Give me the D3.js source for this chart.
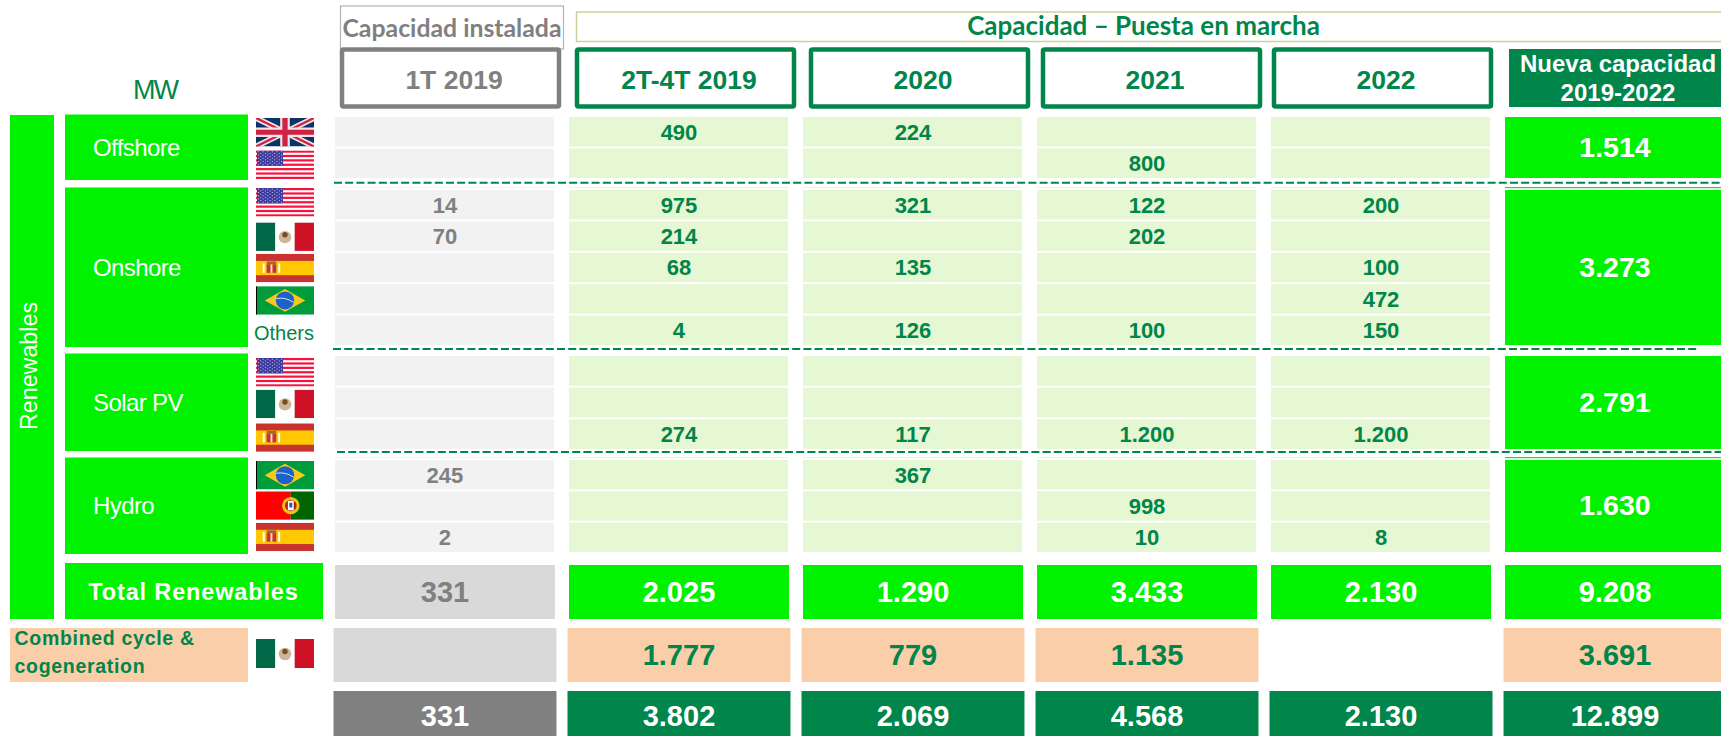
<!DOCTYPE html>
<html>
<head>
<meta charset="utf-8">
<script src="https://cdn.jsdelivr.net/npm/d3@7/dist/d3.min.js"></script>
<style>
html, body { margin: 0; padding: 0; background: #fff; overflow: hidden; }
svg { display: block; }
text { font-family: "Liberation Sans", Arial, sans-serif; }
</style>
</head>
<body>
<svg class="chart" width="1721" height="736"></svg>
<script>
// Data
var columns = ["1T 2019", "2T-4T 2019", "2020", "2021", "2022", "Nueva capacidad 2019-2022"];
var technologies = ["Offshore", "Onshore", "Solar PV", "Hydro"];
var offshoreCountries = ["UK", "US"];
var onshoreCountries = ["US", "MX", "ES", "BR", "Others"];
var solarCountries = ["US", "MX", "ES"];
var hydroCountries = ["BR", "PT", "ES"];

var installed1T = [null, null, 14, 70, null, null, null, null, null, null, 245, null, 2];
var period2019 = [490, null, 975, 214, 68, null, 4, null, null, 274, null, null, null];
var period2020 = [224, null, 321, null, 135, null, 126, null, null, 117, 367, null, null];
var period2021 = [null, 800, 122, 202, null, null, 100, null, null, 1200, null, 998, 10];
var period2022 = [null, null, 200, null, 100, 472, 150, null, null, 1200, null, null, 8];
var techTotals = [1514, 3273, 2791, 1630];
var totalRenewables = [331, 2025, 1290, 3433, 2130, 9208];
var combinedCycle = [null, 1777, 779, 1135, null, 3691];
var grandTotal = [331, 3802, 2069, 4568, 2130, 12899];

// Colours
var GREEN = "#00F200", DARK = "#00854A", LIGHT = "#E6F7D3", PALE = "#F2F2F2";
var SILVER = "#D9D9D9", GREY = "#808080", PEACH = "#FBCEAA";
var WIDTH = 1721, HEIGHT = 736;

var svg = d3.select(".chart");
var fmt = d3.formatLocale({decimal: ",", thousands: ".", grouping: [3], currency: ["", ""]}).format(",d");

// Scales
var x = d3.scaleBand().domain(columns).range([335, 1725]).paddingInner(0.06);
var xHead = d3.scaleOrdinal().domain(columns.slice(0, 5)).range([340, 575, 809, 1041, 1272]);
var HEAD_W = 221;
var countries = [offshoreCountries, onshoreCountries, solarCountries, hydroCountries];
var groupExtent = d3.scaleOrdinal().domain(technologies)
    .range([[117, 178], [190, 345], [356, 449], [460, 552]]);
var yTotals = d3.scaleBand().domain(["renewables", "combined", "grand"])
    .range([565, 745]).paddingInner(0.1429);

// One band scale per technology block, rows numbered across the whole table
var rows = [];
technologies.forEach(function(tech, t) {
    var idx = countries[t].map(function(c, i) { return rows.length + i; });
    var yRow = d3.scaleBand().domain(idx).range(groupExtent(tech)).paddingInner(0.064);
    countries[t].forEach(function(c, i) {
        rows.push({tech: tech, country: c, y: yRow(idx[i]), h: yRow.bandwidth()});
    });
});

function centerText(sel, size, fill, weight) {
    return sel.attr("text-anchor", "middle")
        .attr("dy", "0.36em")
        .attr("font-size", size)
        .attr("font-weight", weight || "bold")
        .attr("fill", fill);
}

// Header boxes
svg.append("rect").attr("x", 340.5).attr("y", 6).attr("width", 223).attr("height", 43)
    .attr("fill", "#fff").attr("stroke", "#B4B4B4").attr("stroke-width", 1.2);
svg.append("text").attr("x", 452).attr("y", 28.5)
    .call(centerText, 24.8, GREY).style("font-family", "Lato")
    .text("Capacidad instalada");

svg.append("rect").attr("x", 576.5).attr("y", 12).attr("width", 1150).attr("height", 29.5)
    .attr("fill", "#fff").attr("stroke", "#C3D69B").attr("stroke-width", 1.5);
svg.append("text").attr("x", 1143.5).attr("y", 26)
    .call(centerText, 26, DARK).style("font-family", "Lato")
    .text("Capacidad \u2013 Puesta en marcha");

svg.selectAll(".head-box")
    .data(columns.slice(0, 5))
    .enter().append("rect")
    .attr("class", "head-box")
    .attr("x", function(d) { return xHead(d) + 2; })
    .attr("y", 49.5)
    .attr("width", HEAD_W - 4)
    .attr("height", 57)
    .attr("rx", 1.5)
    .attr("fill", "#fff")
    .attr("stroke", function(d, i) { return i == 0 ? GREY : DARK; })
    .attr("stroke-width", 4.5);
svg.selectAll(".head-text")
    .data(columns.slice(0, 5))
    .enter().append("text")
    .attr("class", "head-text")
    .attr("x", function(d) { return xHead(d) + HEAD_W / 2 + 3.5; })
    .attr("y", 79)
    .call(centerText, 26.5, DARK)
    .attr("fill", function(d, i) { return i == 0 ? GREY : DARK; })
    .text(function(d) { return d; });

svg.append("rect").attr("x", 1509).attr("y", 49).attr("width", WIDTH - 1509).attr("height", 58)
    .attr("fill", DARK);
svg.selectAll(".new-head")
    .data(["Nueva capacidad", "2019-2022"])
    .enter().append("text")
    .attr("class", "new-head")
    .attr("x", 1618)
    .attr("y", function(d, i) { return 63 + i * 29; })
    .call(centerText, 24, "#fff")
    .text(function(d) { return d; });

svg.append("text").attr("x", 155).attr("y", 89)
    .call(centerText, 27, DARK, "normal")
    .attr("letter-spacing", -2)
    .text("MW");

// Left labels
svg.append("rect").attr("x", 10).attr("y", 115).attr("width", 44).attr("height", 504).attr("fill", GREEN);
svg.append("text")
    .attr("transform", "translate(29,366) rotate(-90)")
    .call(centerText, 23.3, "#fff", "normal")
    .text("Renewables");

svg.selectAll(".tech-box")
    .data(technologies)
    .enter().append("rect")
    .attr("class", "tech-box")
    .attr("x", 65)
    .attr("y", function(d) { return groupExtent(d)[0] - 2.5; })
    .attr("width", 183)
    .attr("height", function(d) { return groupExtent(d)[1] - groupExtent(d)[0] + 4.5; })
    .attr("fill", GREEN);
svg.selectAll(".tech-label")
    .data(technologies)
    .enter().append("text")
    .attr("class", "tech-label")
    .attr("x", 93)
    .attr("y", function(d) { return (groupExtent(d)[0] + groupExtent(d)[1]) / 2 - 0.5; })
    .attr("dy", "0.36em")
    .attr("font-size", 24)
    .attr("letter-spacing", -0.6)
    .attr("fill", "#fff")
    .text(function(d) { return d; });

svg.append("rect").attr("x", 65).attr("y", 563).attr("width", 258).attr("height", 56).attr("fill", GREEN);
svg.append("text").attr("x", 193.5).attr("y", 591.5)
    .call(centerText, 23.5, "#fff")
    .attr("letter-spacing", 0.85)
    .text("Total Renewables");

svg.append("rect").attr("x", 10).attr("y", 628).attr("width", 238).attr("height", 54).attr("fill", PEACH);
svg.selectAll(".combined-label")
    .data(["Combined cycle &", "cogeneration"])
    .enter().append("text")
    .attr("class", "combined-label")
    .attr("x", 14.5)
    .attr("y", function(d, i) { return 638 + i * 27.5; })
    .attr("dy", "0.36em")
    .attr("font-size", 19.5)
    .attr("font-weight", "bold")
    .attr("letter-spacing", 0.7)
    .attr("fill", DARK)
    .text(function(d) { return d; });

// Table cells
var periods = [installed1T, period2019, period2020, period2021, period2022];
var cellCols = columns.slice(0, 5);

cellCols.forEach(function(col, c) {
    svg.selectAll(".cell-" + c)
        .data(rows)
        .enter().append("rect")
        .attr("class", "cell-" + c)
        .attr("x", x(col))
        .attr("y", function(d) { return d.y; })
        .attr("width", x.bandwidth() - 1)
        .attr("height", function(d) { return d.h; })
        .attr("fill", c == 0 ? PALE : LIGHT);
    // faint strip over the blocks that start below a dashed line
    svg.selectAll(".strip-" + c)
        .data(["Onshore", "Hydro"])
        .enter().append("rect")
        .attr("class", "strip-" + c)
        .attr("x", x(col))
        .attr("y", function(d) { return groupExtent(d)[0] - 3; })
        .attr("width", x.bandwidth() - 1)
        .attr("height", 1)
        .attr("fill", c == 0 ? PALE : LIGHT);
    svg.selectAll(".val-" + c)
        .data(periods[c].map(function(v, i) { return {v: v, row: rows[i]}; }).filter(function(d) { return d.v !== null; }))
        .enter().append("text")
        .attr("class", "val-" + c)
        .attr("x", x(col) + x.bandwidth() / 2)
        .attr("y", function(d) { return d.row.y + d.row.h / 2; })
        .call(centerText, 22, c == 0 ? GREY : DARK)
        .text(function(d) { return fmt(d.v); });
});

// Right column per technology
var newCol = columns[5];
svg.selectAll(".tech-total")
    .data(technologies)
    .enter().append("rect")
    .attr("class", "tech-total")
    .attr("x", x(newCol))
    .attr("y", function(d) { return groupExtent(d)[0]; })
    .attr("width", WIDTH - x(newCol))
    .attr("height", function(d) { return groupExtent(d)[1] - groupExtent(d)[0]; })
    .attr("fill", GREEN);
svg.selectAll(".tech-strip")
    .data(["Onshore", "Hydro"])
    .enter().append("rect")
    .attr("class", "tech-strip")
    .attr("x", x(newCol))
    .attr("y", function(d) { return groupExtent(d)[0] - 3; })
    .attr("width", WIDTH - x(newCol))
    .attr("height", 1.2)
    .attr("fill", GREEN);
svg.selectAll(".tech-total-text")
    .data(techTotals)
    .enter().append("text")
    .attr("class", "tech-total-text")
    .attr("x", x(newCol) + x.bandwidth() / 2)
    .attr("y", function(d, i) { var e = groupExtent(technologies[i]); return (e[0] + e[1]) / 2 - 1; })
    .call(centerText, 28.5, "#fff")
    .text(function(d) { return fmt(d); });

// Bottom rows
function totalRow(key, values, fills, textFills, widen, lift) {
    var bars = values.map(function(v, i) {
        return {col: columns[i], v: v, i: i};
    }).filter(function(d) { return fills(d) !== null; });
    svg.selectAll(".bar-" + key)
        .data(bars)
        .enter().append("rect")
        .attr("class", "bar-" + key)
        .attr("x", function(d) { return x(d.col) - widen; })
        .attr("y", yTotals(key))
        .attr("width", function(d) { return Math.min(x.bandwidth() + 2 * widen, WIDTH - x(d.col) + widen); })
        .attr("height", Math.min(yTotals.bandwidth(), HEIGHT - yTotals(key)))
        .attr("fill", fills);
    svg.selectAll(".bar-text-" + key)
        .data(bars.filter(function(d) { return d.v !== null; }))
        .enter().append("text")
        .attr("class", "bar-text-" + key)
        .attr("x", function(d) { return x(d.col) + x.bandwidth() / 2; })
        .attr("y", yTotals(key) + yTotals.bandwidth() / 2 - lift)
        .call(centerText, 29, "#fff")
        .attr("fill", textFills)
        .text(function(d) { return fmt(d.v); });
}
totalRow("renewables", totalRenewables,
    function(d) { return d.i == 0 ? SILVER : GREEN; },
    function(d) { return d.i == 0 ? GREY : "#fff"; }, 0, 0);
totalRow("combined", combinedCycle,
    function(d) { return d.i == 0 ? SILVER : (d.v === null ? null : PEACH); },
    function(d) { return DARK; }, 1.5, 0);
totalRow("grand", grandTotal,
    function(d) { return d.i == 0 ? GREY : DARK; },
    function(d) { return "#fff"; }, 1.5, 2);

// Dashed separators
var separators = d3.scaleOrdinal().domain(["Offshore", "Onshore", "Solar PV"]).range([182.7, 349, 452]);
var sepStart = d3.scaleOrdinal().domain(separators.domain()).range([334, 333, 337]);
var sepEnd = d3.scaleOrdinal().domain(separators.domain()).range([WIDTH, 1698, WIDTH]);
svg.selectAll(".separator")
    .data(separators.domain())
    .enter().append("line")
    .attr("class", "separator")
    .attr("x1", sepStart)
    .attr("x2", sepEnd)
    .attr("y1", separators)
    .attr("y2", separators)
    .attr("stroke", DARK)
    .attr("stroke-width", 2)
    .attr("stroke-dasharray", "8,3.2");

// Flags, drawn on a 60x30 grid
var flagDefs = svg.append("defs");
flagDefs.append("clipPath").attr("id", "flag-clip").append("rect").attr("width", 60).attr("height", 30);

function box(g, xx, yy, w, h, fill) {
    g.append("rect").attr("x", xx).attr("y", yy).attr("width", w).attr("height", h).attr("fill", fill);
}
function path(g, d, stroke, width) {
    g.append("path").attr("d", d).attr("fill", "none").attr("stroke", stroke).attr("stroke-width", width);
}
function crest(g, cx, cy) {
    // small coat of arms of Spain
    box(g, cx - 9, cy - 5, 2, 10, "#fff");
    box(g, cx + 7, cy - 5, 2, 10, "#fff");
    box(g, cx - 5, cy - 4, 10, 9, "#C8322F");
    box(g, cx - 1, cy - 4, 2, 9, "#F4E5C0");
    box(g, cx - 5, cy - 7, 10, 3, "#9E6A2E");
}

var flagDraw = {
    UK: function(g) {
        box(g, 0, 0, 60, 30, "#0B3466");
        path(g, "M0,0L60,30M60,0L0,30", "#F2E4E6", 6);
        path(g, "M0,0L60,30M60,0L0,30", "#CF2244", 2.5);
        path(g, "M30,0V30M0,15H60", "#F2E4E6", 10);
        path(g, "M30,0V30M0,15H60", "#CF2244", 5.5);
    },
    US: function(g) {
        box(g, 0, 0, 60, 30, "#fff");
        d3.range(0, 13, 2).forEach(function(i) { box(g, 0, i * 30 / 13, 60, 30 / 13, "#F5123C"); });
        box(g, 1, 0, 27, 16.2, "#3F3AA0");
        d3.range(0, 9).forEach(function(r) {
            d3.range(0, 11).forEach(function(c) {
                if ((r + c) % 2 == 0) box(g, 2 + c * 2.4, 0.9 + r * 1.7, 1, 0.9, "#E6E6F5");
            });
        });
    },
    MX: function(g) {
        box(g, 0, 0, 20, 30, "#006847");
        box(g, 20, 0, 20, 30, "#fff");
        box(g, 40, 0, 20, 30, "#CE1126");
        g.append("circle").attr("cx", 30).attr("cy", 15.5).attr("r", 6.5).attr("fill", "#C9B79A");
        g.append("circle").attr("cx", 30).attr("cy", 13).attr("r", 2.8).attr("fill", "#7C4A22");
    },
    ES: function(g) {
        box(g, 0, 0, 60, 30, "#C8322F");
        box(g, 0, 7.5, 60, 15, "#FFC800");
        crest(g, 16, 15);
    },
    BR: function(g) {
        box(g, 0, 0, 60, 30, "#009B3A");
        box(g, 0, 0, 1, 30, "#000");
        g.append("path").attr("d", "M9,15L30,3L51,15L30,27Z").attr("fill", "#F7C81E");
        g.append("circle").attr("cx", 30).attr("cy", 15).attr("r", 9.5).attr("fill", "#1C62C8");
        path(g, "M21,13Q30,11 39,17", "#DDE6F5", 1);
    },
    PT: function(g) {
        box(g, 0, 0, 36, 30, "#FF0000");
        box(g, 36, 0, 24, 30, "#006400");
        g.append("circle").attr("cx", 36).attr("cy", 15).attr("r", 9).attr("fill", "#E8C810");
        g.append("circle").attr("cx", 36).attr("cy", 15).attr("r", 6).attr("fill", "#B02020");
        box(g, 33, 10, 6, 10, "#fff");
        box(g, 34.5, 12, 3, 5, "#3050B0");
    }
};

var flagNudge = [1, 2, -2, 1, 1, 2, 0, 2, 2, 4, 1, 0, 0];
function drawFlag(code, top, h) {
    var g = svg.append("g")
        .attr("transform", "translate(256," + top + ") scale(" + (58 / 60) + "," + (h / 30) + ")")
        .attr("clip-path", "url(#flag-clip)");
    flagDraw[code](g);
}
rows.forEach(function(r, i) {
    if (r.country == "Others") {
        svg.append("text").attr("x", 284).attr("y", r.y + r.h / 2 + 2)
            .call(centerText, 20, DARK, "normal")
            .text("Others");
    } else {
        drawFlag(r.country, r.y + flagNudge[i], 28.5);
    }
});
drawFlag("MX", 639, 29);
</script>
</body>
</html>
